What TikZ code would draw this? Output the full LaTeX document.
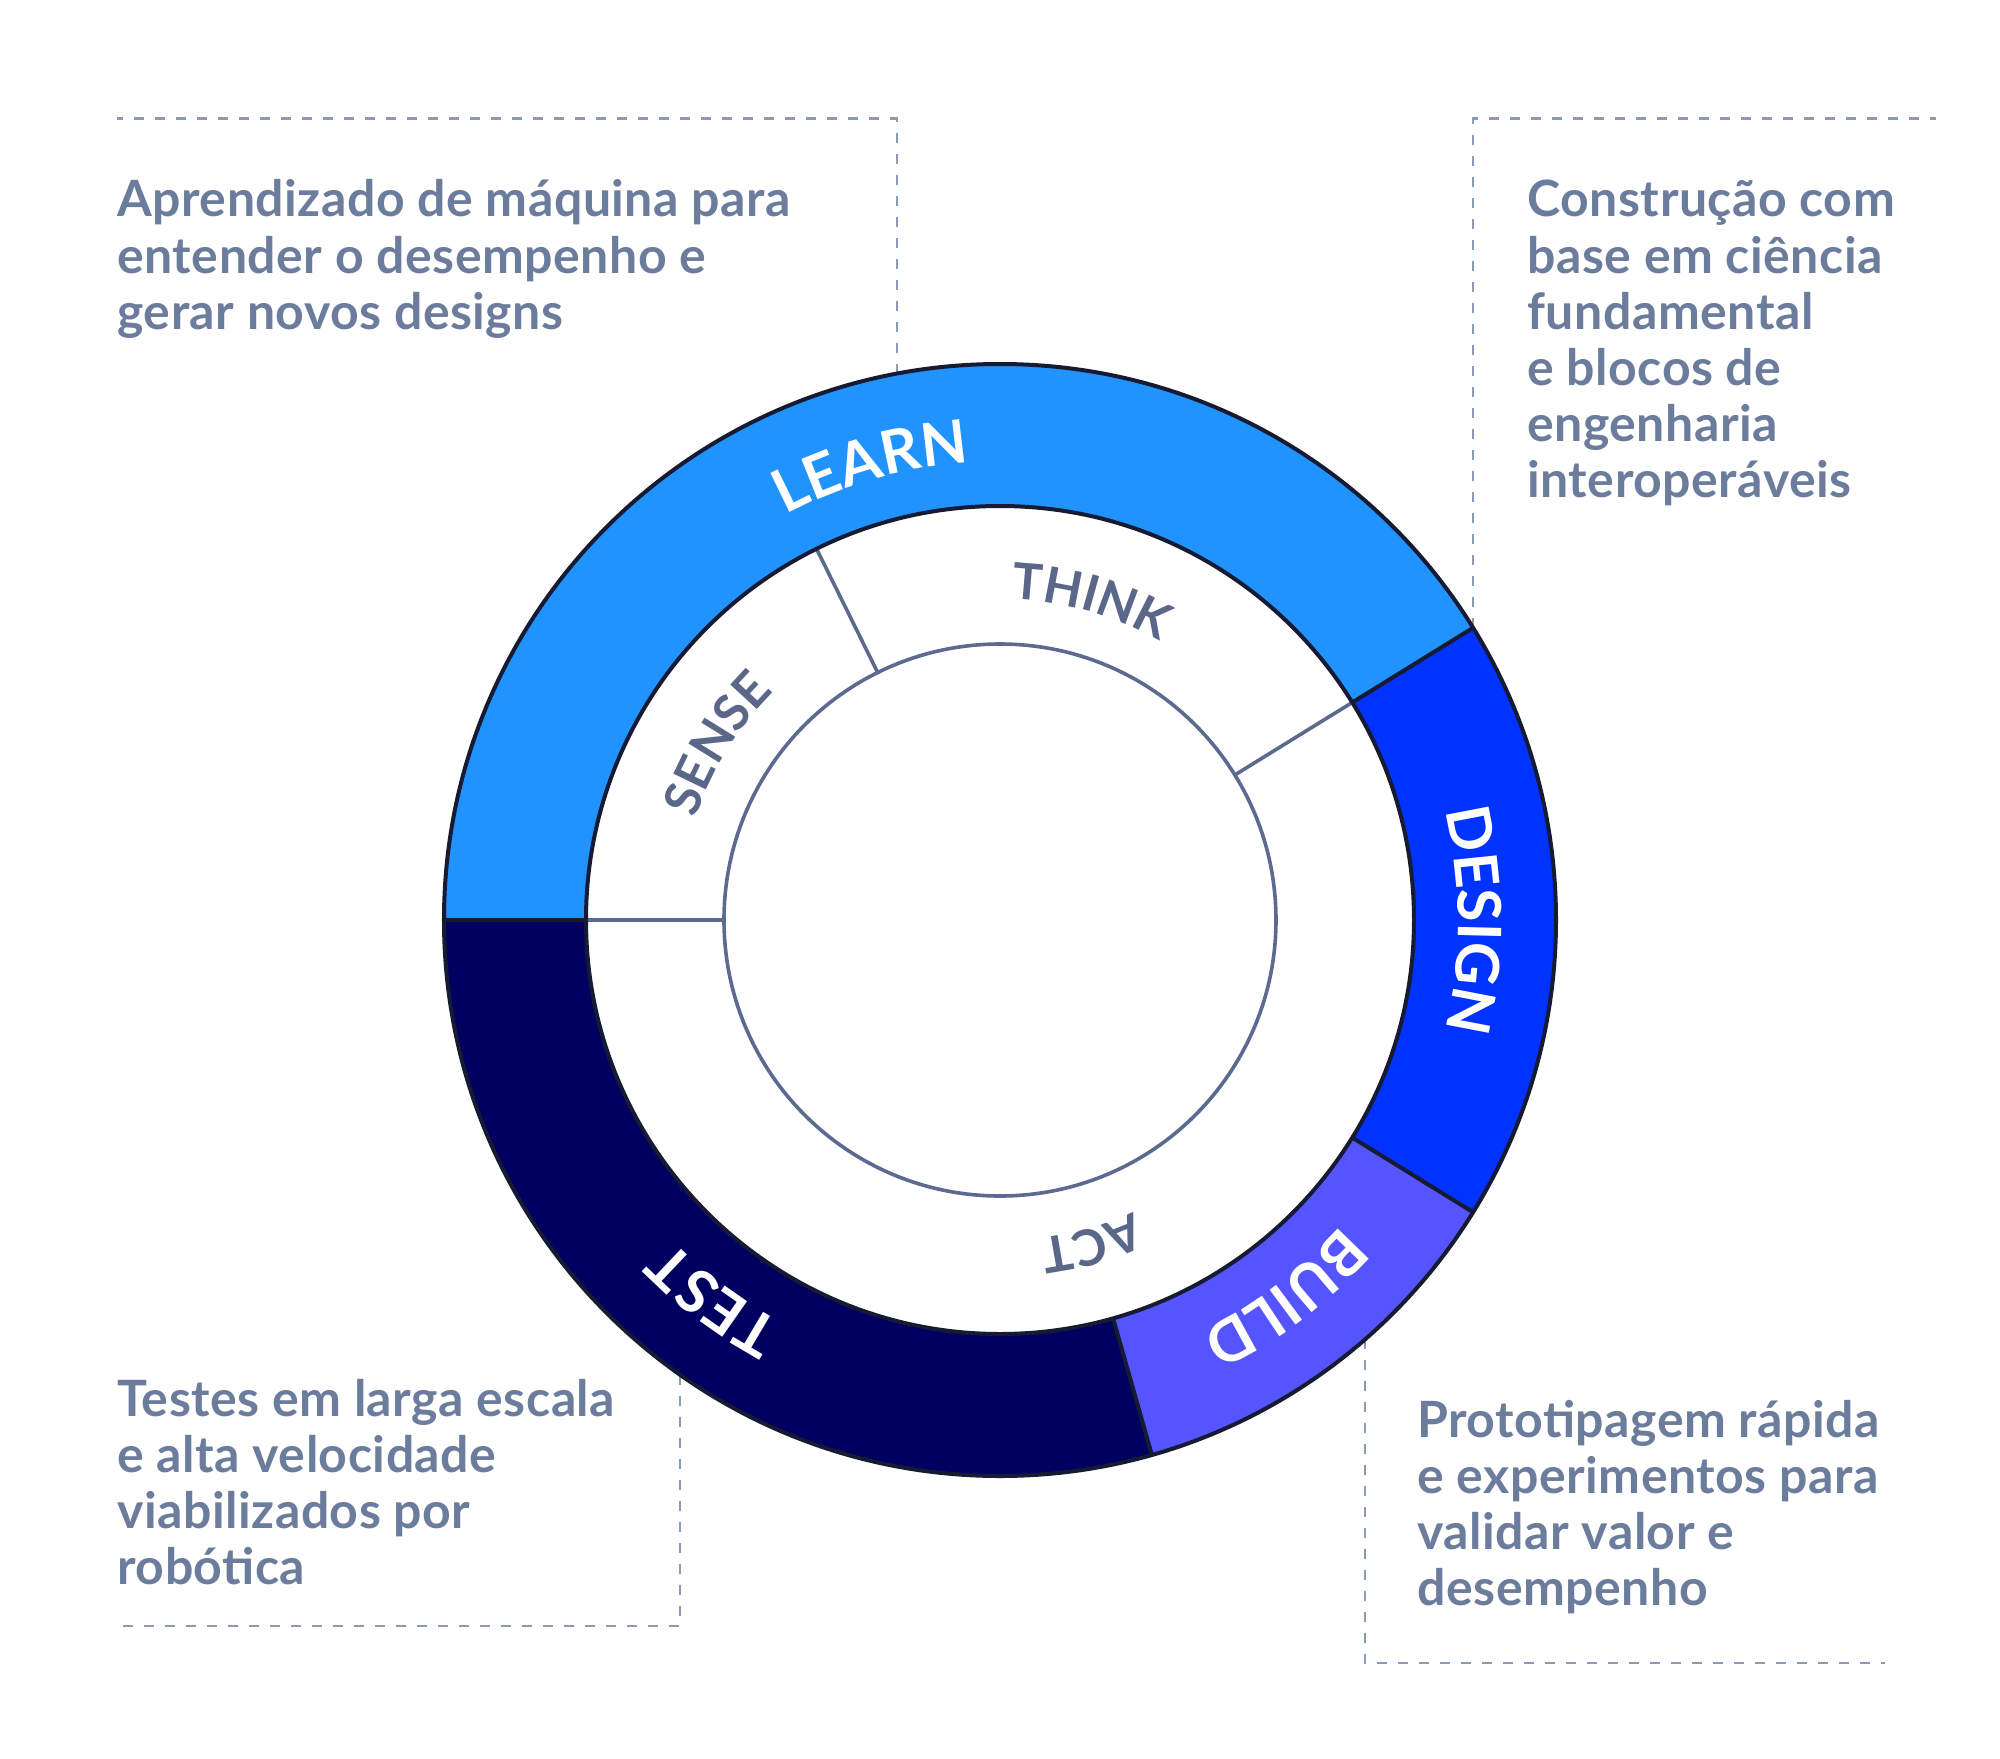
\documentclass[tikz,border=0pt]{standalone}
\usepackage{fontspec}
\setmainfont{Lato}
\usetikzlibrary{decorations.text}
\definecolor{learnc}{HTML}{2193FF}
\definecolor{designc}{HTML}{0033FF}
\definecolor{buildc}{HTML}{5555FF}
\definecolor{testc}{HTML}{000060}
\definecolor{edgec}{HTML}{161A33}
\definecolor{grayline}{HTML}{5C6A8F}
\definecolor{bodytext}{HTML}{6B7C9C}
\definecolor{innertext}{HTML}{5A6789}
\definecolor{dashc}{HTML}{8A9BB8}
\newcommand\outerfont{\fontsize{30pt}{30pt}\selectfont\bfseries\addfontfeatures{LetterSpace=10}}
\newcommand\innerfont{\fontsize{25pt}{25pt}\selectfont\bfseries\addfontfeatures{LetterSpace=10}}
\newcommand\bodyfont{\fontsize{25pt}{28pt}\selectfont\bfseries\addfontfeatures{LetterSpace=1}}
\tikzset{
  seg/.style={draw=edgec, line width=2pt, line join=round},
  divider/.style={draw=grayline, line width=1.8pt},
  callout/.style={draw=dashc, line width=1.35pt, dash pattern=on 5pt off 5.5pt},
  body/.style={anchor=base west, inner sep=0pt, text=bodytext, font=\bodyfont},
  outerword/.style={decorate, decoration={text along path, text align=center, text color=white, text={|\outerfont|#1}}},
  innerword/.style={decorate, decoration={text along path, text align=center, text color=innertext, text={|\innerfont|#1}}},
}
\begin{document}
\begin{tikzpicture}[x=0.5pt, y=0.5pt]
\useasboundingbox (-1000,-838) rectangle (1000,920);
\fill[white] (-1000,-838) rectangle (1000,920);
\def\Ro{556}\def\Rm{414}\def\Ri{276}
\def\Bo{458}\def\Bi{321}
% dashed callouts
\coordinate (tlA) at (-103,546.4);
\coordinate (tlB) at (-103,801.4);
\coordinate (tlC) at (-883,801.4);
\coordinate (trA) at (473,292.2);
\coordinate (trB) at (473,801.4);
\coordinate (trC) at (936,801.4);
\coordinate (blA) at (-320,-454.7);
\coordinate (blB) at (-320,-706);
\coordinate (blC) at (-883,-706);
\coordinate (brA) at (365,-419.4);
\coordinate (brB) at (365,-743);
\coordinate (brC) at (885,-743);
\draw[callout] (tlA) -- (tlB) -- (tlC);
\draw[callout] (trA) -- (trB) -- (trC);
\draw[callout] (blA) -- (blB) -- (blC);
\draw[callout] (brA) -- (brB) -- (brC);
% outer ring segments
\fill[learnc] (31.7:\Ro) arc[start angle=31.7, end angle=180, radius=\Ro] -- (180:\Rm) arc[start angle=180, end angle=31.7, radius=\Rm] -- cycle;
\fill[designc] (-31.7:\Ro) arc[start angle=-31.7, end angle=31.7, radius=\Ro] -- (31.7:\Rm) arc[start angle=31.7, end angle=-31.7, radius=\Rm] -- cycle;
\fill[buildc] (-74.15:\Ro) arc[start angle=-74.15, end angle=-31.7, radius=\Ro] -- (-31.7:\Rm) arc[start angle=-31.7, end angle=-74.15, radius=\Rm] -- cycle;
\fill[testc] (-180:\Ro) arc[start angle=-180, end angle=-74.15, radius=\Ro] -- (-74.15:\Rm) arc[start angle=-74.15, end angle=-180, radius=\Rm] -- cycle;
% inner dividers and circle
\draw[divider] (116.3:\Ri) -- (116.3:\Rm);
\draw[divider] (31.7:\Ri) -- (31.7:\Rm);
\draw[divider] (180:\Ri) -- (180:\Rm);
\draw[divider] (0,0) circle[radius=\Ri];
% dark outlines
\draw[seg] (0,0) circle[radius=\Ro];
\draw[seg] (0,0) circle[radius=\Rm];
\draw[seg] (31.7:\Rm) -- (31.7:\Ro);
\draw[seg] (-31.7:\Rm) -- (-31.7:\Ro);
\draw[seg] (-74.15:\Rm) -- (-74.15:\Ro);
\draw[seg] (180:\Rm) -- (180:\Ro);
% ring labels (read clockwise, tops outward)
\path[outerword=LEARN] (180:\Bo) arc[start angle=180, end angle=31.7, radius=\Bo];
\path[outerword=DESIGN] (31.7:\Bo) arc[start angle=31.7, end angle=-31.7, radius=\Bo];
\path[outerword=BUILD] (-31.7:\Bo) arc[start angle=-31.7, end angle=-74.15, radius=\Bo];
\path[outerword=TEST] (-74.15:\Bo) arc[start angle=-74.15, end angle=-180, radius=\Bo];
\path[innerword=THINK] (116.3:\Bi) arc[start angle=116.3, end angle=31.7, radius=\Bi];
\path[innerword=SENSE] (180:\Bi) arc[start angle=180, end angle=116.3, radius=\Bi];
\path[innerword=ACT] (31.7:\Bi) arc[start angle=31.7, end angle=-180, radius=\Bi];
% texts
\node[body] (tltext) at (-883,703) {\parbox[t]{400pt}{\raggedright Aprendizado de máquina para\\entender o desempenho e\\gerar novos designs}};
\node[body] (trtext) at (527,703) {\parbox[t]{300pt}{\raggedright Construção com\\base em ciência\\fundamental\\e blocos de\\engenharia\\interoperáveis}};
\node[body] (bltext) at (-883,-496) {\parbox[t]{300pt}{\raggedright Testes em larga escala\\e alta velocidade\\viabilizados por\\robótica}};
\node[body] (brtext) at (417,-517) {\parbox[t]{300pt}{\raggedright Prototipagem rápida\\e experimentos para\\validar valor e\\desempenho}};
\end{tikzpicture}
\end{document}
